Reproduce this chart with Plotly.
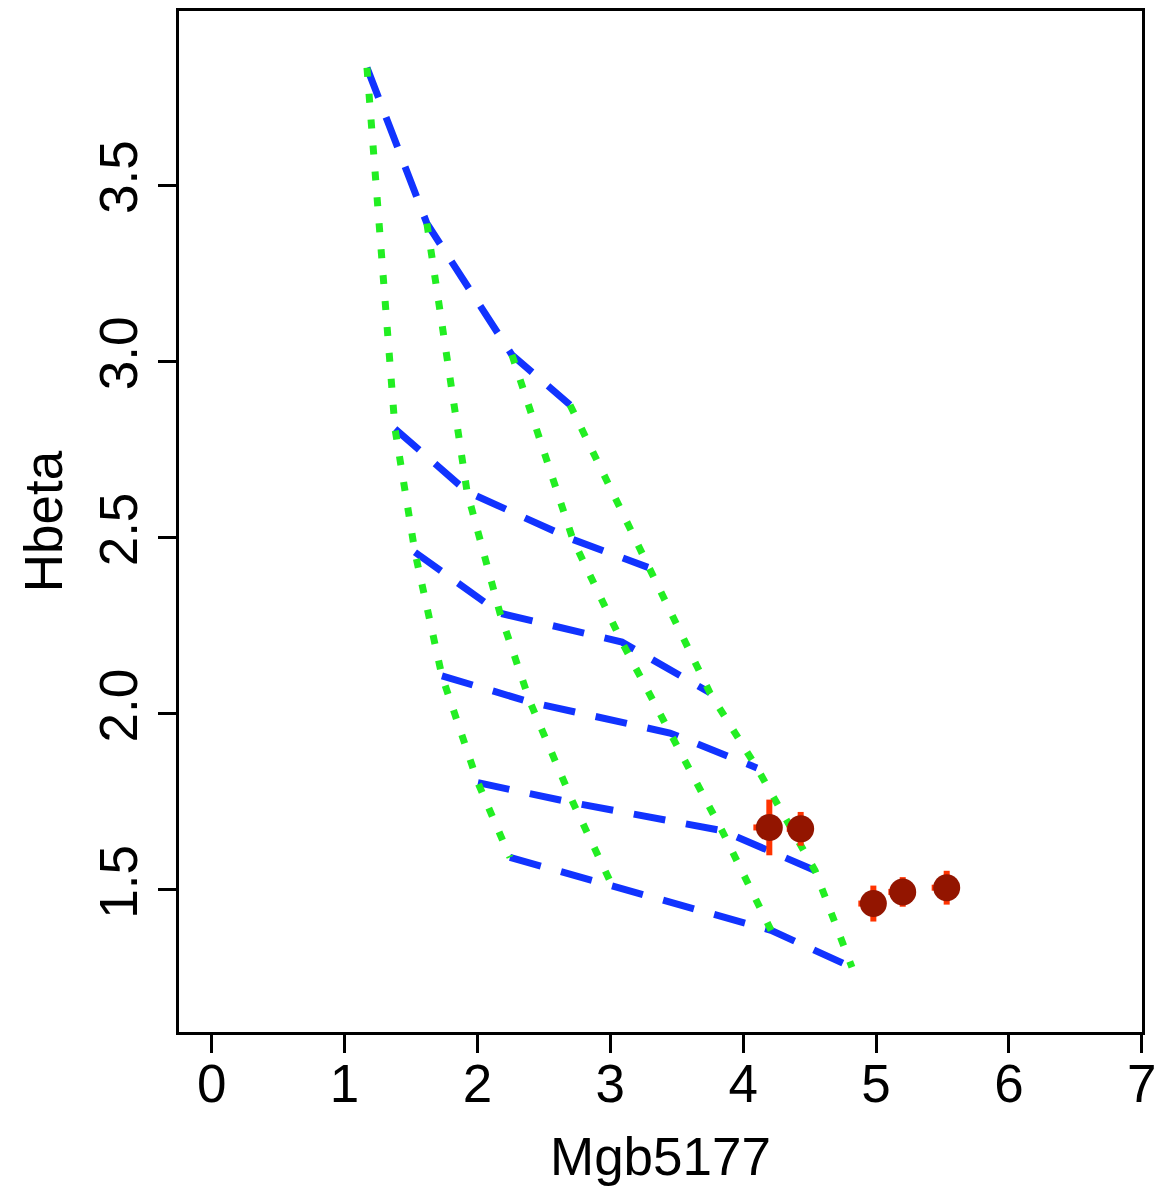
import plotly.graph_objects as go

# Model grid: rows = blue dashed lines, columns = green dotted lines
grid_mgb = [
    [1.169, 1.620, 2.260, 2.697],
    [1.380, 1.922, 2.719, 3.284],
    [1.530, 2.170, 3.088, 3.750],
    [1.733, 2.396, 3.449, 4.104],
    [2.004, 2.720, 3.841, 4.541],
    [2.245, 3.013, 4.210, 4.819],
]
grid_hbeta = [
    [3.833, 3.391, 3.018, 2.876],
    [2.808, 2.630, 2.494, 2.415],
    [2.458, 2.285, 2.203, 2.059],
    [2.107, 2.033, 1.945, 1.846],
    [1.804, 1.747, 1.668, 1.555],
    [1.592, 1.513, 1.385, 1.280],
]

# Observed points
obs_mgb = [4.197, 4.433, 4.980, 5.201, 5.532]
obs_hbeta = [1.677, 1.673, 1.461, 1.494, 1.506]
obs_hbeta_err = [0.079, 0.048, 0.051, 0.042, 0.048]
obs_mgb_err_minus = [0.12, 0.105, 0.113, 0.108, 0.113]
obs_mgb_err_plus = [0.04, 0.04, 0.04, 0.04, 0.04]

x_ticks = [0, 1, 2, 3, 4, 5, 6, 7]
y_ticks = [1.5, 2.0, 2.5, 3.0, 3.5]
y_ticktext = ["1.5", "2.0", "2.5", "3.0", "3.5"]

BLUE = "#1133FF"
GREEN = "#22EE22"

fig = go.Figure()

for r in range(len(grid_mgb)):
    fig.add_trace(go.Scatter(
        x=grid_mgb[r], y=grid_hbeta[r], mode="lines",
        line=dict(color=BLUE, width=7, dash="32px,21px"),
        hoverinfo="skip", showlegend=False))

for c in range(len(grid_mgb[0])):
    fig.add_trace(go.Scatter(
        x=[row[c] for row in grid_mgb], y=[row[c] for row in grid_hbeta],
        mode="lines",
        line=dict(color=GREEN, width=7, dash="9px,17px"),
        hoverinfo="skip", showlegend=False))

fig.add_trace(go.Scatter(
    x=obs_mgb, y=obs_hbeta, mode="markers",
    marker=dict(color="#931500", size=27, line=dict(width=0)),
    error_y=dict(type="data", array=obs_hbeta_err, color="#FF3300", thickness=6, width=0),
    error_x=dict(type="data", symmetric=False, array=obs_mgb_err_plus,
                 arrayminus=obs_mgb_err_minus, color="#FF3300", thickness=6, width=0),
    showlegend=False))

font_family = "Liberation Sans, Arial, sans-serif"

fig.update_layout(
    width=1176, height=1192,
    margin=dict(l=179, r=34, t=8, b=160),
    paper_bgcolor="white", plot_bgcolor="white",
    showlegend=False,
    font=dict(family=font_family, size=53, color="black"),
    xaxis=dict(
        range=[-0.246, 7.002], tickvals=x_ticks, ticks="outside", ticklen=18,
        tickwidth=3, tickcolor="black", showline=True, linewidth=3, linecolor="black",
        mirror=True, showgrid=False, zeroline=False, ticklabelstandoff=-15,
        tickfont=dict(size=53, family=font_family, color="black"),
        title=dict(text="Mgb5177", font=dict(size=53, family=font_family), standoff=27),
    ),
    yaxis=dict(
        range=[1.0965, 3.994], tickvals=y_ticks, ticktext=y_ticktext, tickangle=-90,
        ticks="outside", ticklen=18, tickwidth=3, tickcolor="black",
        showline=True, linewidth=3, linecolor="black", mirror=True,
        showgrid=False, zeroline=False,
        tickfont=dict(size=53, family=font_family, color="black"),
        title=dict(text="Hbeta", font=dict(size=53, family=font_family), standoff=10),
    ),
)

fig.write_html("out.html")
